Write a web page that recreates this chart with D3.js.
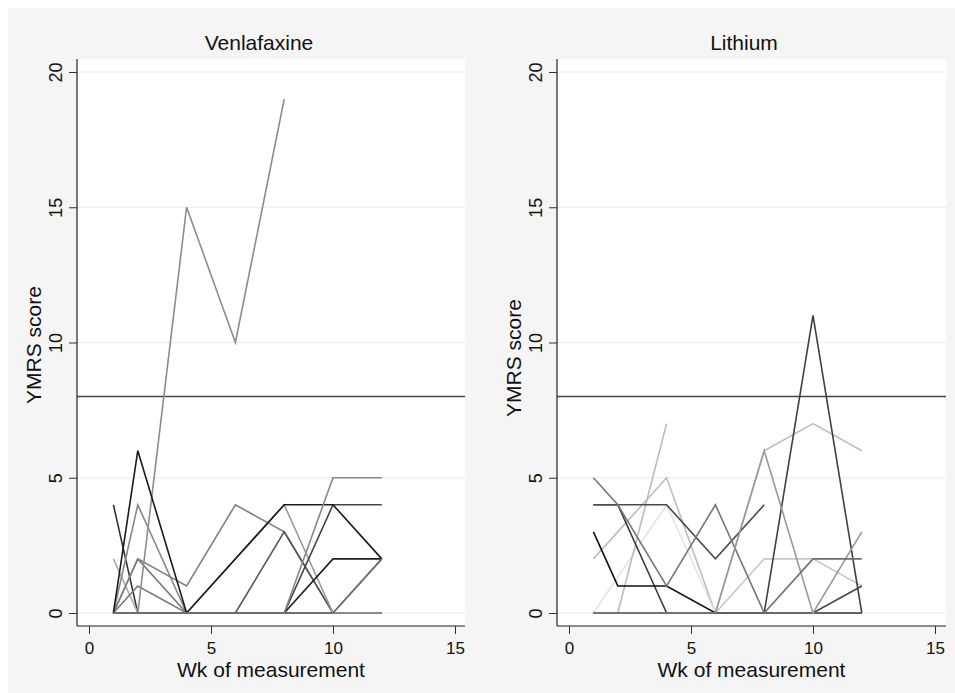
<!DOCTYPE html>
<html>
<head>
<meta charset="utf-8">
<script src="https://cdn.jsdelivr.net/npm/d3@7"></script>
<style>
  body{margin:0;background:#fff;}
  text{font-family:"Liberation Sans",Arial,Helvetica,sans-serif;fill:#111;}
</style>
</head>
<body>
<div id="chart"></div>
<script>
// weeks of measurement, one value per subject per week (null = not measured)
var weeks = [1,2,4,6,8,10,12];

var venlafaxine = [
  [4,0,0,0,0,0,0],
  [2,0,0,0,0,0,0],
  [0,4,0,0,0,0,0],
  [0,2,0,0,0,0,0],
  [0,1,0,0,0,0,0],
  [0,2,1,4,3,0,2],
  [0,0,15,10,19,null,null],
  [0,0,0,0,3,0,0],
  [0,0,0,null,4,0,0],
  [0,0,0,0,0,4,4],
  [0,0,0,0,0,2,2],
  [0,6,0,null,4,4,2],
  [0,0,0,0,0,5,5],
  [0,0,0,0,0,0,2]
];
var venShades = ["#333","#aaa","#888","#777","#7a7a7a","#808080","#8c8c8c","#555","#999","#444","#1e1e1e","#1a1a1a","#888","#6e6e6e"];

var lithium = [
  [2,null,5,0,6,7,6],
  [0,null,4,0,0,0,0],
  [0,0,7,null,null,null,null],
  [0,0,0,0,2,2,1],
  [4,4,0,0,0,0,0],
  [4,4,4,2,4,null,null],
  [3,1,1,0,0,0,0],
  [0,0,0,0,0,11,0],
  [0,0,0,0,0,0,1],
  [5,4,1,4,0,0,0],
  [0,0,0,0,6,0,3],
  [0,0,0,0,0,2,2]
];
var lithShades = ["#bdbdbd","#e4e4e4","#bbb","#c8c8c8","#3a3a3a","#4a4a4a","#111","#404040","#444","#777","#999","#6e6e6e"];

var yTicks = [0,5,10,15,20];
var xTicks = [0,5,10,15];
var cutoff = 8;

var width = 955, height = 693;
var svg = d3.select("#chart").append("svg")
    .attr("width",width)
    .attr("height",height);

svg.append("rect")
    .attr("x",8).attr("y",8)
    .attr("width",width-8).attr("height",height-8)
    .attr("fill","#f5f5f5");

var panels = [
  {title:"Venlafaxine", data:venlafaxine, shades:venShades, left:77, right:465, titleX:259, labX:41, labY:345},
  {title:"Lithium", data:lithium, shades:lithShades, left:557, right:946, titleX:744, labX:521, labY:358}
];
var plotTop = 59, plotBottom = 626;

panels.forEach(function(p){
  var g = svg.append("g");
  var x0 = p.left + 12;
  var xScale = d3.scaleLinear().domain([0,15]).range([x0, x0 + 366]);
  var yScale = d3.scaleLinear().domain([0,20]).range([613,72]);

  g.append("rect")
      .attr("x",p.left).attr("y",plotTop)
      .attr("width",p.right-p.left).attr("height",plotBottom-plotTop)
      .attr("fill","#fff");

  // grid
  g.append("g").selectAll("line")
      .data(yTicks)
      .enter().append("line")
      .attr("x1",p.left).attr("x2",p.right)
      .attr("y1",function(d){return yScale(d);})
      .attr("y2",function(d){return yScale(d);})
      .attr("stroke","#f0f0f0")
      .attr("stroke-width",1.5);

  // cutoff line
  g.append("line")
      .attr("x1",p.left).attr("x2",p.right)
      .attr("y1",yScale(cutoff)).attr("y2",yScale(cutoff))
      .attr("stroke","#444")
      .attr("stroke-width",1.5);

  var line = d3.line()
      .x(function(d){return xScale(d[0]);})
      .y(function(d){return yScale(d[1]);});

  g.append("g").selectAll("path")
      .data(p.data)
      .enter().append("path")
      .attr("d",function(row){
        var pts = weeks.map(function(w,i){return [w,row[i]];})
            .filter(function(d){return d[1] != null;});
        return line(pts);
      })
      .attr("fill","none")
      .attr("stroke",function(d,i){return p.shades[i];})
      .attr("stroke-width",1.6)
      .attr("stroke-linejoin","miter");

  // y axis
  var yAxis = d3.axisLeft(yScale).tickValues(yTicks).tickSize(8).tickFormat(d3.format("d"));
  var ya = g.append("g")
      .attr("transform","translate("+p.left+",0)")
      .call(yAxis);
  ya.select(".domain").remove();
  ya.selectAll(".tick line").attr("stroke","#333");
  ya.selectAll("text")
      .attr("transform","rotate(-90)")
      .attr("x",0).attr("y",-15).attr("dy",0)
      .attr("text-anchor","middle")
      .attr("font-size",18)
      .attr("font-family",null)
      .attr("fill","#111");
  g.append("line")
      .attr("x1",p.left).attr("x2",p.left)
      .attr("y1",plotTop).attr("y2",plotBottom)
      .attr("stroke","#222").attr("stroke-width",1.2);

  // x axis
  var xAxis = d3.axisBottom(xScale).tickValues(xTicks).tickSize(8).tickFormat(d3.format("d"));
  var xa = g.append("g")
      .attr("transform","translate(0,"+plotBottom+")")
      .call(xAxis);
  xa.select(".domain").remove();
  xa.selectAll(".tick line").attr("stroke","#333");
  xa.selectAll("text")
      .attr("y",28).attr("dy",0)
      .attr("font-size",17)
      .attr("font-family",null)
      .attr("fill","#111");
  g.append("line")
      .attr("x1",p.left).attr("x2",p.right)
      .attr("y1",plotBottom).attr("y2",plotBottom)
      .attr("stroke","#222").attr("stroke-width",1.2);

  g.append("text")
      .attr("x",p.titleX).attr("y",50)
      .attr("text-anchor","middle")
      .attr("font-size",21)
      .text(p.title);

  g.append("text")
      .attr("x",(p.left+p.right)/2).attr("y",677)
      .attr("text-anchor","middle")
      .attr("font-size",21)
      .text("Wk of measurement");

  g.append("text")
      .attr("transform","translate("+p.labX+","+p.labY+") rotate(-90)")
      .attr("text-anchor","middle")
      .attr("font-size",21)
      .text("YMRS score");
});
</script>
</body>
</html>
